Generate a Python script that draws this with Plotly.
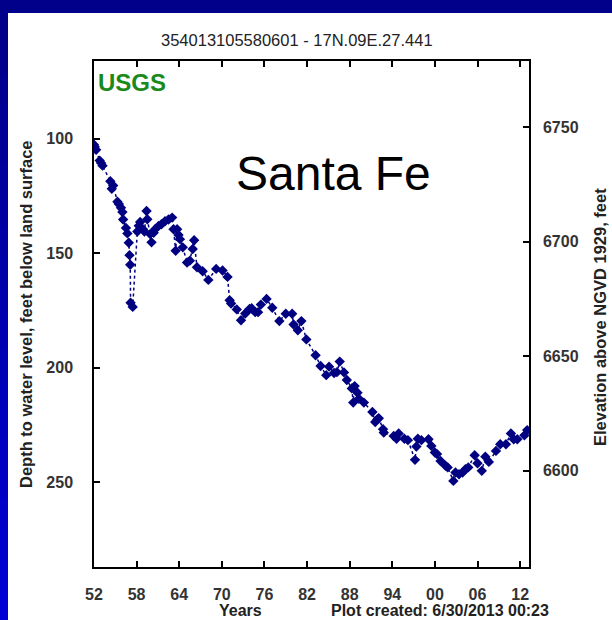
import plotly.graph_objects as go

# ---- data ----
years = [
    1952.0, 1952.1, 1952.3, 1952.8, 1953.0, 1953.2, 1954.3, 1954.5, 1954.7,
    1955.3, 1955.5, 1955.8, 1956.0, 1956.1, 1956.5, 1956.7, 1956.9, 1957.0,
    1957.1, 1957.15, 1957.45, 1958.1, 1958.3, 1958.5, 1958.9, 1959.1, 1959.4,
    1959.5, 1959.9, 1960.1, 1960.4, 1960.6, 1961.1, 1961.5, 1962.0, 1962.5,
    1963.0, 1963.2, 1963.5, 1963.7, 1963.9, 1964.1, 1964.5, 1965.1, 1965.5,
    1965.9, 1966.1, 1966.5, 1967.3, 1968.1, 1969.2, 1970.1, 1970.8, 1971.1,
    1971.3, 1972.1, 1972.7, 1973.3, 1973.9, 1974.2, 1974.7, 1975.1, 1975.5,
    1976.3, 1977.1, 1978.1, 1979.0, 1979.9, 1980.1, 1980.7, 1981.2, 1981.9,
    1983.2, 1983.9, 1984.7, 1985.1, 1985.8, 1986.2, 1986.6, 1987.2, 1987.6,
    1988.3, 1988.5, 1988.7, 1989.1, 1989.3, 1990.0, 1991.2, 1991.6, 1991.9,
    1992.1, 1992.7, 1992.8, 1994.2, 1994.6, 1994.9, 1995.7, 1996.2, 1997.2,
    1997.4, 1997.6, 1998.1, 1999.1, 1999.5, 2000.0, 2000.3, 2000.8, 2001.5,
    2001.8, 2002.6, 2002.9, 2003.4, 2003.9, 2004.3, 2004.7, 2005.6, 2006.0,
    2006.6, 2007.1, 2007.6, 2008.6, 2009.2, 2010.0, 2010.7, 2011.1, 2011.6,
    2012.6, 2013.0,
]
depth_ft = [
    102.6, 103.5, 104.8, 109.5, 110.5, 111.7, 118.5, 121.8, 120.4,
    127.5, 128.5, 130.1, 132.0, 135.2, 138.9, 141.3, 145.4, 150.8,
    155.0, 171.6, 173.4, 140.5, 138.0, 136.3, 139.5, 140.5, 131.5,
    135.1, 141.6, 145.2, 141.0, 139.5, 138.0, 137.3, 136.0, 135.2,
    134.4, 139.5, 148.9, 139.5, 142.0, 143.8, 147.4, 154.0, 153.2,
    148.1, 144.3, 156.1, 157.8, 161.6, 156.8, 157.5, 160.3, 170.5,
    171.9, 174.5, 179.2, 176.3, 174.3, 174.0, 175.7, 175.7, 172.4,
    169.9, 173.8, 179.6, 176.4, 176.4, 181.1, 183.6, 179.6, 187.6,
    194.5, 199.2, 203.2, 199.5, 202.3, 201.9, 197.3, 202.0, 205.3,
    209.0, 215.2, 208.0, 210.9, 213.5, 215.2, 219.3, 223.7, 222.5,
    222.0, 226.8, 228.3, 229.8, 231.0, 228.7, 231.0, 231.6, 240.2,
    234.4, 231.0, 231.6, 231.2, 234.1, 237.0, 237.7, 240.7, 242.8,
    243.5, 249.4, 245.7, 246.5, 245.7, 244.3, 243.5, 238.2, 241.7,
    245.0, 238.8, 241.1, 236.3, 233.4, 233.4, 228.7, 231.2, 231.2,
    229.5, 227.2,
]
land_surface_ft = 6845.0
elevation_ft = [land_surface_ft - d for d in depth_ft]

x_tick_vals = [1952, 1958, 1964, 1970, 1976, 1982, 1988, 1994, 2000, 2006, 2012]
x_tick_text = ["52", "58", "64", "70", "76", "82", "88", "94", "00", "06", "12"]
depth_ticks = [100, 150, 200, 250]
elev_ticks = [6600, 6650, 6700, 6750]
depth_range = [287, 66]
x_range = [1952, 2013.25]

title_text = "354013105580601 - 17N.09E.27.441"
left_title = "Depth to water level, feet below land surface"
right_title = "Elevation above NGVD 1929, feet"

# ---- layout geometry ----
W, H = 612, 620
L, R, T, B = 94, 83, 61, 53
PW, PH = W - L - R, H - T - B


def px(x):
    return (x - L) / PW


def py(y):
    return (H - B - y) / PH


NAVY = "#000080"
FONT = "Liberation Sans, Arial, sans-serif"
TICKFONT = dict(family=FONT, size=16, color="#333333", weight="bold")

fig = go.Figure()
fig.add_trace(go.Scatter(
    x=years, y=depth_ft, mode="lines+markers",
    line=dict(color=NAVY, width=1.5, dash="dot"),
    marker=dict(symbol="diamond", size=8, color=NAVY),
    showlegend=False, hoverinfo="x+y",
))
fig.add_trace(go.Scatter(
    x=years, y=elevation_ft, yaxis="y2", mode="markers",
    marker=dict(opacity=0), showlegend=False, hoverinfo="skip",
))

shapes = []
# white panel on blue slide background
shapes.append(dict(type="rect", xref="paper", yref="paper",
                   x0=px(8), x1=px(W + 5), y0=py(H + 5), y1=py(13),
                   fillcolor="white", line=dict(width=0), layer="below"))
# left strip gradient
n = 20
for i in range(n):
    y0 = 13 + (H - 13) * i / n
    y1 = 13 + (H - 13) * (i + 1) / n
    t = i / (n - 1)
    b = int(0x8A + (0xD4 - 0x8A) * t)
    shapes.append(dict(type="rect", xref="paper", yref="paper",
                       x0=px(-5), x1=px(8), y0=py(y1 + 0.5), y1=py(y0),
                       fillcolor=f"rgb(0,0,{b})", line=dict(width=0), layer="below"))

annotations = [
    dict(text=title_text, x=px(297), y=py(40), xref="paper", yref="paper",
         showarrow=False, xanchor="center", yanchor="middle",
         font=dict(family=FONT, size=16.5, color="#222222")),
    dict(text="USGS", x=px(96), y=py(82), xref="paper", yref="paper",
         showarrow=False, xanchor="left", yanchor="middle",
         font=dict(family=FONT, size=24, color="#1a8a1a", weight="bold")),
    dict(text="Santa Fe", x=px(333), y=py(173), xref="paper", yref="paper",
         showarrow=False, xanchor="center", yanchor="middle",
         font=dict(family=FONT, size=48, color="black")),
    dict(text=left_title, x=px(26), y=py(314), xref="paper", yref="paper",
         showarrow=False, xanchor="center", yanchor="middle", textangle=-90,
         font=dict(family=FONT, size=16.5, color="#222222", weight="bold")),
    dict(text=right_title, x=px(600), y=py(317), xref="paper", yref="paper",
         showarrow=False, xanchor="center", yanchor="middle", textangle=-90,
         font=dict(family=FONT, size=16.5, color="#222222", weight="bold")),
    dict(text="Years", x=px(240), y=py(610), xref="paper", yref="paper",
         showarrow=False, xanchor="center", yanchor="middle",
         font=dict(family=FONT, size=16, color="#222222", weight="bold")),
    dict(text="Plot created: 6/30/2013 00:23", x=px(440), y=py(610), xref="paper", yref="paper",
         showarrow=False, xanchor="center", yanchor="middle",
         font=dict(family=FONT, size=16, color="#222222", weight="bold")),
]

axis_common = dict(showline=True, linecolor="black", linewidth=1.5, ticks="inside",
                   ticklen=6, tickwidth=1.5, tickcolor="black", showgrid=False,
                   zeroline=False, tickfont=TICKFONT)

fig.update_layout(
    width=W, height=H,
    margin=dict(l=L, r=R, t=T, b=B, pad=0),
    paper_bgcolor="#00008A", plot_bgcolor="white",
    xaxis=dict(range=x_range, tickvals=x_tick_vals, ticktext=x_tick_text,
               mirror="ticks", ticklabelstandoff=12, **axis_common),
    yaxis=dict(range=depth_range, tickvals=depth_ticks, mirror=True,
               ticklabelstandoff=16, **axis_common),
    yaxis2=dict(range=[land_surface_ft - depth_range[0], land_surface_ft - depth_range[1]],
                tickvals=elev_ticks, overlaying="y", side="right",
                ticklabelstandoff=9, **axis_common),
    shapes=shapes, annotations=annotations,
    showlegend=False,
)

fig.write_html("out.html")
